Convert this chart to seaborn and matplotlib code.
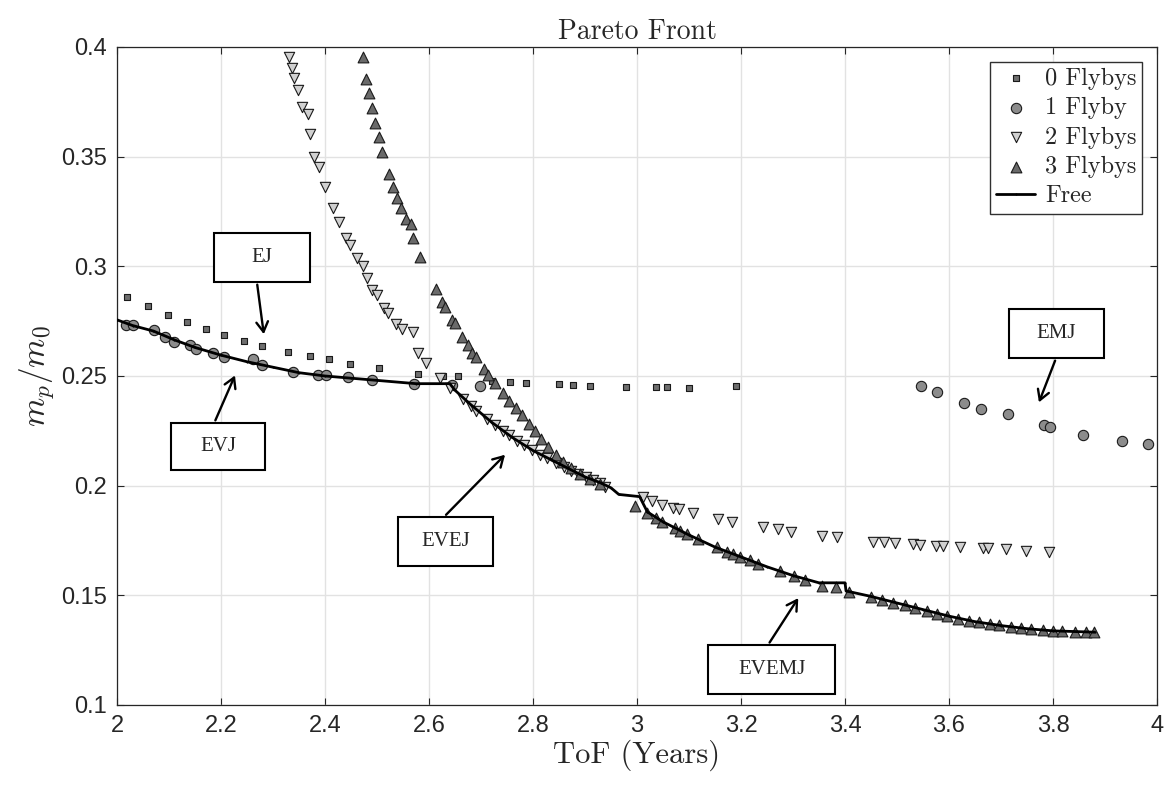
import numpy as np
import pandas as pd
import seaborn as sns
import matplotlib.pyplot as plt
from matplotlib.patches import Rectangle

# ---- data ----
tof_0 = [2.019, 2.060, 2.098, 2.135, 2.171, 2.206, 2.244, 2.279, 2.329, 2.371, 2.408,
         2.448, 2.504, 2.579, 2.627, 2.656, 2.721, 2.756, 2.786, 2.850, 2.877, 2.910,
         2.979, 3.037, 3.058, 3.100, 3.190]
mp_0 = [0.2860, 0.2820, 0.2780, 0.2747, 0.2715, 0.2687, 0.2660, 0.2637, 0.2610, 0.2592,
        0.2578, 0.2555, 0.2537, 0.2510, 0.2500, 0.2500, 0.2478, 0.2473, 0.2469, 0.2464,
        0.2460, 0.2455, 0.2450, 0.2450, 0.2450, 0.2446, 0.2455]

tof_1 = [2.017, 2.031, 2.071, 2.092, 2.110, 2.140, 2.152, 2.185, 2.206, 2.262, 2.279,
         2.338, 2.387, 2.402, 2.444, 2.490, 2.571, 2.644, 2.698,
         3.546, 3.577, 3.629, 3.662, 3.713, 3.783, 3.794, 3.858, 3.933, 3.983]
mp_1 = [0.2733, 0.2733, 0.2710, 0.2678, 0.2655, 0.2642, 0.2623, 0.2605, 0.2587, 0.2578,
        0.2550, 0.2519, 0.2505, 0.2505, 0.2496, 0.2482, 0.2464, 0.2460, 0.2455,
        0.2455, 0.2428, 0.2378, 0.2350, 0.2327, 0.2277, 0.2268, 0.2232, 0.2204, 0.2190]

tof_2 = [2.330, 2.336, 2.340, 2.348, 2.356, 2.367, 2.371, 2.379, 2.388, 2.400, 2.415,
         2.427, 2.440, 2.448, 2.462, 2.473, 2.481, 2.490, 2.500, 2.513, 2.521, 2.537,
         2.548, 2.569, 2.579, 2.594, 2.621, 2.640, 2.665, 2.680, 2.690, 2.712, 2.727,
         2.742, 2.754, 2.769, 2.783, 2.798, 2.813, 2.827, 2.844, 2.860, 2.873, 2.887,
         2.902, 2.915, 2.929, 2.938,
         3.012, 3.029, 3.048, 3.069, 3.081, 3.108, 3.156, 3.183, 3.242, 3.271, 3.296,
         3.356, 3.385, 3.454, 3.475, 3.496, 3.531, 3.544, 3.575, 3.588, 3.621, 3.665,
         3.675, 3.710, 3.748, 3.792]
mp_2 = [0.3954, 0.3904, 0.3859, 0.3804, 0.3727, 0.3695, 0.3603, 0.3499, 0.3453, 0.3362,
        0.3266, 0.3202, 0.3129, 0.3098, 0.3038, 0.3002, 0.2947, 0.2892, 0.2870, 0.2810,
        0.2788, 0.2737, 0.2715, 0.2700, 0.2605, 0.2560, 0.2491, 0.2446, 0.2396, 0.2364,
        0.2341, 0.2304, 0.2277, 0.2250, 0.2232, 0.2204, 0.2186, 0.2163, 0.2140, 0.2127,
        0.2104, 0.2086, 0.2067, 0.2054, 0.2040, 0.2026, 0.2010, 0.1995,
        0.1949, 0.1930, 0.1913, 0.1899, 0.1894, 0.1876, 0.1849, 0.1835, 0.1812, 0.1803,
        0.1789, 0.1771, 0.1767, 0.1744, 0.1744, 0.1740, 0.1735, 0.1730, 0.1726, 0.1726,
        0.1721, 0.1717, 0.1717, 0.1712, 0.1703, 0.1698]

tof_3 = [2.473, 2.479, 2.485, 2.490, 2.496, 2.504, 2.510, 2.523, 2.531, 2.538, 2.546,
         2.556, 2.565, 2.569, 2.583, 2.613, 2.625, 2.631, 2.644, 2.650, 2.663, 2.675,
         2.683, 2.691, 2.706, 2.714, 2.727, 2.742, 2.754, 2.767, 2.779, 2.792, 2.804,
         2.815, 2.829, 2.844, 2.858, 2.873, 2.890, 2.910, 2.929,
         2.996, 3.019, 3.037, 3.048, 3.073, 3.083, 3.096, 3.118, 3.154, 3.173, 3.185,
         3.198, 3.217, 3.233, 3.275, 3.302, 3.323, 3.356, 3.383, 3.408, 3.450, 3.471,
         3.492, 3.515, 3.535, 3.558, 3.577, 3.596, 3.617, 3.638, 3.658, 3.679, 3.696,
         3.719, 3.738, 3.758, 3.781, 3.800, 3.817, 3.842, 3.863, 3.879]
mp_3 = [0.3954, 0.3854, 0.3790, 0.3720, 0.3654, 0.3590, 0.3522, 0.3420, 0.3362, 0.3310,
        0.3266, 0.3216, 0.3193, 0.3130, 0.3043, 0.2897, 0.2838, 0.2815, 0.2756, 0.2742,
        0.2678, 0.2642, 0.2605, 0.2587, 0.2532, 0.2505, 0.2469, 0.2423, 0.2387, 0.2354,
        0.2323, 0.2282, 0.2250, 0.2213, 0.2177, 0.2140, 0.2108, 0.2081, 0.2054, 0.2031,
        0.2008,
        0.1908, 0.1876, 0.1853, 0.1835, 0.1808, 0.1794, 0.1780, 0.1758, 0.1721, 0.1698,
        0.1689, 0.1676, 0.1662, 0.1644, 0.1612, 0.1589, 0.1570, 0.1543, 0.1539, 0.1516,
        0.1493, 0.1480, 0.1466, 0.1457, 0.1443, 0.1429, 0.1416, 0.1407, 0.1393, 0.1384,
        0.1379, 0.1370, 0.1366, 0.1356, 0.1352, 0.1347, 0.1343, 0.1338, 0.1338, 0.1334,
        0.1334, 0.1334]

tof_free = [2.000, 2.030, 2.070, 2.110, 2.150, 2.200, 2.250, 2.300, 2.350, 2.400, 2.450,
            2.500, 2.575, 2.640, 2.650, 2.680, 2.720, 2.760, 2.800, 2.850, 2.900, 2.930,
            2.950, 2.965, 3.005, 3.020, 3.050, 3.100, 3.150, 3.200, 3.250, 3.300, 3.350,
            3.400, 3.402, 3.450, 3.500, 3.550, 3.600, 3.650, 3.700, 3.750, 3.800, 3.880]
mp_free = [0.2756, 0.2730, 0.2705, 0.2665, 0.2630, 0.2595, 0.2565, 0.2540, 0.2515, 0.2500,
           0.2490, 0.2480, 0.2465, 0.2465, 0.2435, 0.2370, 0.2290, 0.2220, 0.2160, 0.2100,
           0.2040, 0.2013, 0.1990, 0.1960, 0.1950, 0.1880, 0.1835, 0.1775, 0.1720, 0.1675,
           0.1630, 0.1590, 0.1557, 0.1557, 0.1520, 0.1495, 0.1465, 0.1435, 0.1405, 0.1380,
           0.1362, 0.1348, 0.1338, 0.1332]

# annotation text boxes: label, (x0, x1, y_bottom, y_top), arrow tail, arrow head
annot_labels = ['EJ', 'EVJ', 'EVEJ', 'EVEMJ', 'EMJ']
annot_boxes = [(2.1865, 2.371, 0.2929, 0.3152),
               (2.104, 2.285, 0.2072, 0.2286),
               (2.540, 2.723, 0.1635, 0.1858),
               (3.137, 3.381, 0.1051, 0.1274),
               (3.715, 3.898, 0.2582, 0.2806)]
annot_tail = [(2.269, 0.2929), (2.187, 0.2286), (2.629, 0.1858), (3.252, 0.1274), (3.806, 0.2582)]
annot_head = [(2.283, 0.2678), (2.229, 0.2514), (2.750, 0.2150), (3.313, 0.1498), (3.771, 0.2368)]

sns.set_theme(style='whitegrid')
plt.rcParams['mathtext.fontset'] = 'cm'

fig = plt.figure(figsize=(11.7, 7.87), dpi=100)
ax = fig.add_axes([0.1, 0.1042, 0.8889, 0.8361])

edge = '#1a1a1a'
sns.scatterplot(x=tof_0, y=mp_0, marker='s', s=22, color='#6e6e6e', edgecolor=edge,
                linewidth=0.8, label='0 Flybys', ax=ax, zorder=3)
sns.scatterplot(x=tof_1, y=mp_1, marker='o', s=55, color='#8c8c8c', edgecolor=edge,
                linewidth=0.8, label='1 Flyby', ax=ax, zorder=3)
sns.scatterplot(x=tof_2, y=mp_2, marker='v', s=55, color='#d0d0d0', edgecolor=edge,
                linewidth=0.8, label='2 Flybys', ax=ax, zorder=3)
sns.scatterplot(x=tof_3, y=mp_3, marker='^', s=60, color='#6a6a6a', edgecolor=edge,
                linewidth=0.8, label='3 Flybys', ax=ax, zorder=3)
sns.lineplot(x=tof_free, y=mp_free, sort=False, color='black', linewidth=2,
             marker='.', markersize=3, markeredgewidth=0, markerfacecolor='black',
             label='Free', ax=ax, zorder=4)

ax.set_xlim(2, 4)
ax.set_ylim(0.1, 0.4)
ax.set_xticks(np.arange(2, 4.01, 0.2))
ax.set_xticklabels(['2', '2.2', '2.4', '2.6', '2.8', '3', '3.2', '3.4', '3.6', '3.8', '4'])
ax.set_yticks(np.arange(0.1, 0.401, 0.05))
ax.set_yticklabels(['0.1', '0.15', '0.2', '0.25', '0.3', '0.35', '0.4'])
ax.tick_params(direction='in', length=5, width=0.8, color='#262626', labelsize=17,
               pad=7, top=True, right=True, bottom=True, left=True)
for lbl in ax.get_xticklabels() + ax.get_yticklabels():
    lbl.set_fontfamily('Liberation Sans')
ax.grid(True, color='#e2e2e2', linewidth=1)
for sp in ax.spines.values():
    sp.set_color('#262626')
    sp.set_linewidth(0.9)

ax.set_title('Pareto Front', fontfamily='cmr10', fontsize=20, pad=6)
ax.set_xlabel('ToF (Years)', fontfamily='cmr10', fontsize=22, labelpad=2)
ax.set_ylabel(r'$m_p/m_0$', fontsize=24, labelpad=4)

leg = ax.legend(loc='upper right', prop={'family': 'cmr10', 'size': 17.5},
                frameon=True, fancybox=False, edgecolor='#303030', framealpha=1,
                borderaxespad=0.6, handlelength=1.6, handletextpad=0.4,
                labelspacing=0.3, borderpad=0.25)
leg.get_frame().set_linewidth(1)

for lab, box, tail, head in zip(annot_labels, annot_boxes, annot_tail, annot_head):
    x0, x1, y0, y1 = box
    ax.add_patch(Rectangle((x0, y0), x1 - x0, y1 - y0, facecolor='white',
                           edgecolor='black', linewidth=1.5, zorder=6))
    ax.text((x0 + x1) / 2, (y0 + y1) / 2, lab, ha='center', va='center',
            fontfamily='Liberation Serif', fontsize=15, zorder=7)
    ax.annotate('', xy=head, xytext=tail, zorder=6,
                arrowprops=dict(arrowstyle='->,head_length=0.6,head_width=0.35',
                                color='black', lw=1.7))

fig.savefig('out.png', dpi=100)
